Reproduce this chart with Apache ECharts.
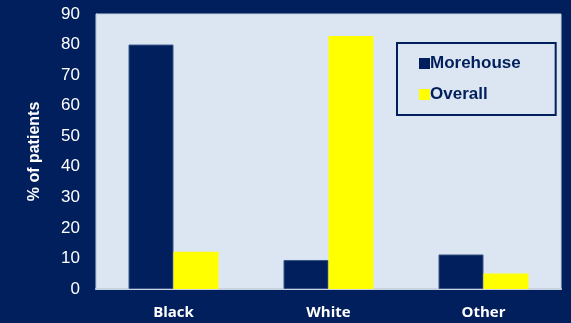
<!DOCTYPE html>
<html>
<head>
<meta charset="utf-8">
<script src="https://cdn.jsdelivr.net/npm/echarts@6/dist/echarts.min.js"></script>
<style>
html, body { margin: 0; padding: 0; background: #001f5c; }
#main { width: 571px; height: 323px; }
</style>
</head>
<body>
<div id="main"></div>
<script>
var categories = ['Black', 'White', 'Other'];
var morehouse = [80, 9.5, 11.3];
var overall = [12.2, 82.8, 5.1];

var myChart = echarts.init(document.getElementById('main'));
myChart.setOption({
    backgroundColor: '#001f5c',
    animation: false,
    grid: {
        left: 96, right: 10, top: 14, bottom: 34,
        show: true,
        backgroundColor: '#dce6f3',
        borderColor: '#c8d2e0',
        borderWidth: 1
    },
    legend: {
        orient: 'vertical',
        left: 397, top: 43,
        padding: [12, 35, 12, 22],
        itemGap: 14,
        itemWidth: 11, itemHeight: 11,
        backgroundColor: '#dce6f3',
        borderColor: '#001f5c',
        borderWidth: 2,
        icon: 'rect',
        textStyle: {
            color: '#001f5c', fontFamily: 'Liberation Sans, Arial',
            fontWeight: 'bold', fontSize: 17, padding: [0, 10, 0, -5]
        },
        itemStyle: { borderWidth: 0 },
        data: ['Morehouse', 'Overall']
    },
    xAxis: {
        type: 'category',
        data: categories,
        axisTick: { show: false },
        axisLine: { lineStyle: { color: '#c8d2e0', width: 2 } },
        axisLabel: {
            color: '#ffffff', fontFamily: 'Open Sans, DejaVu Sans',
            fontWeight: 'bold', fontSize: 15, margin: 16
        }
    },
    yAxis: {
        type: 'value',
        min: 0, max: 90, interval: 10,
        name: '% of patients',
        nameLocation: 'middle',
        nameGap: 53,
        nameTextStyle: {
            color: '#ffffff', fontFamily: 'Liberation Sans, Arial',
            fontWeight: 'bold', fontSize: 16
        },
        splitLine: { show: false },
        axisTick: { show: false },
        axisLine: { show: true, lineStyle: { color: '#c8d2e0', width: 1 } },
        axisLabel: {
            color: '#ffffff', fontFamily: 'Liberation Sans, Arial',
            fontSize: 17, margin: 16
        }
    },
    series: [
        {
            name: 'Morehouse', type: 'bar', data: morehouse,
            barWidth: 45, barGap: '0%',
            itemStyle: { color: '#001f5c', borderColor: '#3a5585', borderWidth: 1 }
        },
        {
            name: 'Overall', type: 'bar', data: overall,
            barWidth: 45,
            itemStyle: { color: '#ffff00' }
        }
    ]
});
</script>
</body>
</html>
